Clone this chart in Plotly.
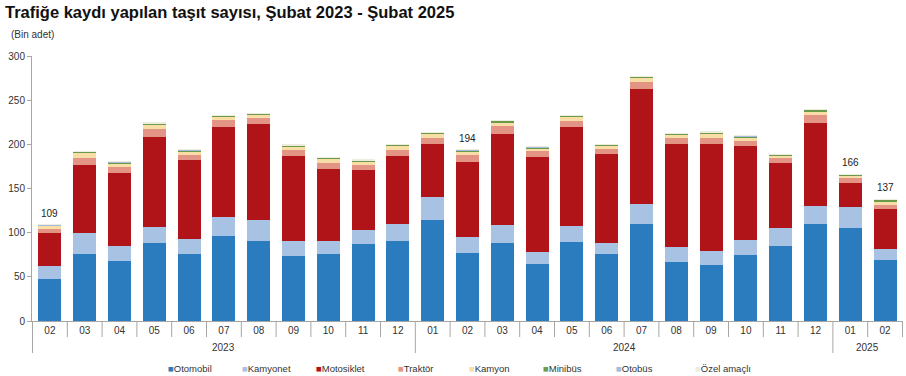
import plotly.graph_objects as go

# ---- data (thousand units) ----
years = ["2023"] * 11 + ["2024"] * 12 + ["2025"] * 2
months = ["02", "03", "04", "05", "06", "07", "08", "09", "10", "11", "12",
          "01", "02", "03", "04", "05", "06", "07", "08", "09", "10", "11", "12",
          "01", "02"]

otomobil = [47.5, 76.2, 67.9, 88.0, 76.2, 95.9, 90.2, 74.0, 76.2, 86.8, 90.2,
            114.3, 77.4, 88.7, 64.9, 89.8, 76.2, 109.8, 66.8, 63.4, 75.0, 85.3, 109.8,
            104.9, 69.0]
kamyonet = [14.8, 23.1, 17.4, 18.0, 16.3, 21.8, 24.1, 17.0, 14.8, 15.8, 19.6,
            26.1, 18.1, 19.6, 13.6, 17.4, 12.5, 22.7, 17.2, 15.8, 17.0, 19.6, 20.4,
            24.5, 12.5]
motosiklet = [37.3, 76.9, 81.9, 102.7, 89.8, 102.3, 109.1, 95.8, 81.4, 68.0, 77.0,
              60.3, 84.5, 103.7, 107.2, 112.0, 100.5, 130.1, 116.4, 121.2, 106.0, 73.6, 94.3,
              27.2, 45.3]
traktor = [5.0, 8.5, 7.0, 8.5, 6.0, 7.0, 6.5, 6.5, 7.0, 6.5, 7.0,
           6.5, 7.5, 8.2, 6.2, 7.5, 5.8, 8.0, 6.5, 7.3, 6.3, 5.5, 8.2,
           4.8, 5.0]
kamyon = [3.2, 5.6, 4.5, 5.1, 4.0, 4.5, 3.8, 4.4, 4.1, 3.7, 4.4,
          4.5, 4.6, 5.0, 3.8, 4.6, 3.7, 4.8, 4.0, 4.4, 3.9, 3.5, 4.8,
          3.5, 4.0]
minibus = [0.7, 1.4, 1.2, 1.3, 1.1, 1.1, 1.2, 1.1, 1.2, 1.0, 1.2,
           1.3, 1.3, 1.4, 1.1, 1.3, 1.0, 1.4, 1.1, 1.4, 1.1, 1.0, 1.6,
           1.0, 1.4]
otobus = [0.3, 0.4, 0.3, 0.4, 0.3, 0.3, 0.3, 0.3, 0.3, 0.3, 0.3,
          0.3, 0.3, 0.3, 0.3, 0.3, 0.3, 0.3, 0.3, 0.3, 0.3, 0.3, 0.3,
          0.3, 0.3]
ozel = [0.2, 0.3, 0.2, 0.2, 0.2, 0.2, 0.2, 0.2, 0.2, 0.2, 0.2,
        0.2, 0.2, 0.2, 0.2, 0.2, 0.2, 0.2, 0.2, 0.2, 0.2, 0.2, 0.2,
        0.2, 0.2]

total_labels = ["109", "", "", "", "", "", "", "", "", "", "",
                "", "194", "", "", "", "", "", "", "", "", "", "",
                "166", "137"]

series_names = ["Otomobil", "Kamyonet", "Motosiklet", "Traktör",
                "Kamyon", "Minibüs", "Otobüs", "Özel amaçlı"]
series_values = [otomobil, kamyonet, motosiklet, traktor, kamyon, minibus, otobus, ozel]
series_colors = ["#2b7bbf", "#a8c2e4", "#b01318", "#e39484",
                 "#f8dea6", "#6b9a4a", "#a3bbdd", "#eeebdf"]

categories = [f"{y}-{m}" for y, m in zip(years, months)]
totals = [sum(vals) for vals in zip(*series_values)]

FONT = "Liberation Sans, Arial, sans-serif"
GREY = "#a6a6a6"
W, H = 906, 376
ML, MR, MT, MB = 32, 3, 56, 55
PLOT_W = W - ML - MR
PLOT_H = H - MT - MB


def px_x(p):
    return (p - ML) / PLOT_W


def px_y(p):
    return (H - MB - p) / PLOT_H


fig = go.Figure()
for name, vals, col in zip(series_names, series_values, series_colors):
    fig.add_trace(go.Bar(x=categories, y=vals, name=name, marker_color=col,
                         marker_line_width=0, showlegend=False))

# total labels
for cat, tot, lab in zip(categories, totals, total_labels):
    if lab:
        fig.add_annotation(x=cat, y=tot, text=lab, showarrow=False, yanchor="bottom",
                           yshift=4, font=dict(size=10, color="#222", family=FONT))

# x-axis separators (short between months, long at year boundaries)
n = len(categories)
for i in range(n + 1):
    is_year = i == 0 or (0 < i < n and years[i] != years[i - 1])
    fig.add_shape(type="line", xref="x", yref="paper", x0=i - 0.5, x1=i - 0.5,
                  y0=0, y1=px_y(353 if is_year else 337),
                  line=dict(color=GREY, width=1))

# year labels
for yr in ["2023", "2024", "2025"]:
    idx = [i for i, y in enumerate(years) if y == yr]
    fig.add_annotation(x=(idx[0] + idx[-1]) / 2, xref="x", y=px_y(347), yref="paper",
                       text=yr, showarrow=False, yanchor="middle",
                       font=dict(size=10, color="#333", family=FONT))

# unit label
fig.add_annotation(x=px_x(9), xref="paper", y=px_y(34), yref="paper",
                   text="(Bin adet)", showarrow=False, xanchor="left", yanchor="middle",
                   font=dict(size=10, color="#333", family=FONT))

# legend row (small coloured squares followed by the series name)
legend_px = [166, 240, 314, 396, 467, 541, 614, 693]
for name, col, lx in zip(series_names, series_colors, legend_px):
    fig.add_annotation(x=px_x(lx), xref="paper", y=px_y(368), yref="paper",
                       text=f'<span style="color:{col}">■</span>{name}',
                       showarrow=False, xanchor="left", yanchor="middle",
                       font=dict(size=9.5, color="#333", family=FONT))

fig.update_layout(
    title=dict(text="<b>Trafiğe kaydı yapılan taşıt sayısı, Şubat 2023 - Şubat 2025</b>",
               x=5 / W, xanchor="left", xref="container",
               y=1 - 12 / H, yanchor="middle", yref="container",
               pad=dict(l=0, r=0, t=0, b=0),
               font=dict(size=16.5, color="#111", family=FONT)),
    barmode="stack",
    bargap=0.34,
    width=W, height=H,
    margin=dict(l=ML, r=MR, t=MT, b=MB, autoexpand=False),
    paper_bgcolor="white", plot_bgcolor="white",
    font=dict(family=FONT, size=10, color="#333"),
    xaxis=dict(type="category", tickvals=categories, ticktext=months,
               showline=True, linecolor=GREY, linewidth=1, ticks="",
               showgrid=False, tickfont=dict(size=10, color="#333")),
    yaxis=dict(range=[0, 300], dtick=50, showline=True, linecolor=GREY, linewidth=1,
               ticks="outside", ticklen=4, tickcolor=GREY, showgrid=False,
               zeroline=False, tickfont=dict(size=10, color="#333")),
    showlegend=False,
)

fig.write_html("out.html",
               config={"displayModeBar": False},
               post_script="document.body.style.margin='0';document.body.style.overflow='hidden';")
